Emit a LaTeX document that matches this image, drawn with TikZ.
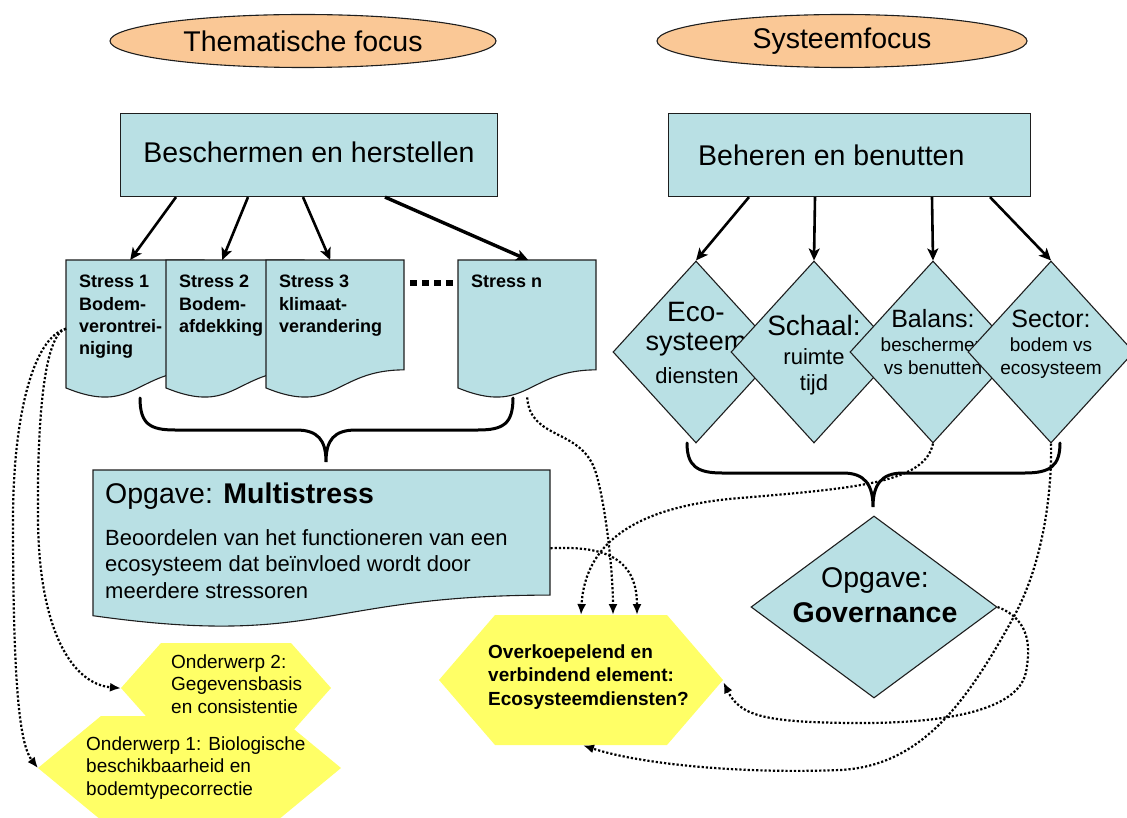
\documentclass[tikz,border=0pt]{standalone}
\usepackage{fontspec}
\setmainfont{Liberation Sans}
\usetikzlibrary{shapes.geometric,arrows.meta}

\definecolor{tealfill}{RGB}{185,224,228}
\definecolor{hexyellow}{RGB}{255,255,102}
\definecolor{peach}{RGB}{250,200,150}
\definecolor{edgegray}{RGB}{30,30,30}

\newcommand\fs[2]{\fontsize{#1pt}{#2pt}\selectfont}
% left-aligned block whose baseline is that of its first line
\newcommand\linesleft[1]{\vtop{\halign{##\hfil\cr #1\crcr}}}

% flowchart "document" shape: name, x, y (top), width, height
\newcommand\docshape[5]{%
  \pgfmathsetmacro\dR{#2+#4}%
  \pgfmathsetmacro\dM{#2+0.5*#4}%
  \pgfmathsetmacro\dYr{#3+0.802*#5}%
  \pgfmathsetmacro\dYc{#3+1.14*#5}%
  \pgfmathsetmacro\dYl{#3+0.934*#5}%
  \filldraw[box] (#2,#3) -- (\dR,#3) -- (\dR,\dYr)
    .. controls (\dM,\dYr) and (\dM,\dYc) .. (#2,\dYl) -- cycle;
  \node[inner sep=0pt, minimum width=#4pt, minimum height=#5pt,
        anchor=north west] (#1) at (#2,#3) {};
}

% hexagon: name, x left, x top-left, x top-right, x right, y top, y bottom
\newcommand\hexshape[7]{%
  \pgfmathsetmacro\hM{0.5*(#6+#7)}%
  \fill[hexyellow] (#2,\hM) -- (#3,#6) -- (#4,#6) -- (#5,\hM)
    -- (#4,#7) -- (#3,#7) -- cycle;
  \pgfmathsetmacro\hW{#5-#2}%
  \pgfmathsetmacro\hH{#7-#6}%
  \node[inner sep=0pt, minimum width=\hW pt, minimum height=\hH pt,
        anchor=north west] (#1) at (#2,#6) {};
}

\begin{document}
\begin{tikzpicture}[x=1pt, y=-1pt,
  box/.style={draw=edgegray, line width=1.1pt, fill=tealfill},
  diam/.style={diamond, draw=edgegray, line width=1.1pt, fill=tealfill,
               inner sep=0pt, aspect=1},
  oval/.style={ellipse, draw=edgegray, line width=1.1pt, fill=peach,
               inner sep=0pt, font=\fs{28.5}{30}},
  solidarr/.style={draw=black, line width=2.6pt,
                   -{Stealth[length=12pt,width=11pt,inset=3pt]}},
  dotarr/.style={draw=black, line width=2.2pt, dash pattern=on 2.2pt off 2pt,
                 -{Latex[length=11pt,width=9pt]}},
  brace/.style={draw=black, line width=3pt, line cap=round},
  txt/.style={inner sep=0pt},
]
\useasboundingbox (0,0) rectangle (1127,818);

% ---- headings -------------------------------------------------------
\node[oval, minimum width=386pt, minimum height=53pt] (thema) at (303,41)
  {Thematische focus};
\node[oval, minimum width=370pt, minimum height=53pt] (systeem) at (842,41)
  {Systeemfocus};

% ---- top boxes ------------------------------------------------------
\node[box, minimum width=377pt, minimum height=83pt, anchor=north west,
      inner sep=0pt] (besch) at (120,113) {};
\node[txt, anchor=base, font=\fs{28.5}{30}] (beschT) at (309,163)
  {Beschermen en herstellen};
\node[box, minimum width=362pt, minimum height=83pt, anchor=north west,
      inner sep=0pt] (beheer) at (668,113) {};
\node[txt, anchor=base west, font=\fs{28.5}{30}] (beheerT) at (698,166)
  {Beheren en benutten};

% ---- stress documents -----------------------------------------------
\docshape{s1}{66}{260}{138}{137}
\node[txt, anchor=base west, font=\fs{18}{22.3}\bfseries] (s1T) at (79,288)
  {\linesleft{Stress 1\cr Bodem-\cr verontrei-\cr niging}};
\docshape{s2}{166}{260}{138}{137}
\node[txt, anchor=base west, font=\fs{18}{22.3}\bfseries] (s2T) at (179,288)
  {\linesleft{Stress 2\cr Bodem-\cr afdekking}};
\docshape{s3}{266}{260}{138}{137}
\node[txt, anchor=base west, font=\fs{18}{22.3}\bfseries] (s3T) at (279,288)
  {\linesleft{Stress 3\cr klimaat-\cr verandering}};
\draw[line width=6pt, dash pattern=on 7pt off 5pt] (410,283) -- (453,283);
\docshape{sn}{458}{260}{138}{137}
\node[txt, anchor=base west, font=\fs{18}{22.3}\bfseries] (snT) at (471,288)
  {Stress n};

% ---- system diamonds ------------------------------------------------
\node[diam, minimum width=166pt, minimum height=182pt] (d1) at (696,352) {};
\node[txt, anchor=base, font=\fs{28}{28}] (d1a) at (696,321) {Eco-};
\node[txt, anchor=base, font=\fs{27}{27}] (d1b) at (696,350) {systeem};
\node[txt, anchor=base, font=\fs{22}{22}] (d1c) at (697,383) {diensten};

\node[diam, minimum width=166pt, minimum height=182pt] (d2) at (814,352) {};
\node[txt, anchor=base, font=\fs{28}{28}] (d2a) at (814,335) {Schaal:};
\node[txt, anchor=base, font=\fs{22}{22}] (d2b) at (814,364) {ruimte};
\node[txt, anchor=base, font=\fs{22}{22}] (d2c) at (814,390) {tijd};

\node[diam, minimum width=166pt, minimum height=182pt] (d3) at (933,352) {};
\node[txt, anchor=base, font=\fs{25}{25}] (d3a) at (933,327) {Balans:};
\node[txt, anchor=base, font=\fs{19}{19}] (d3b) at (933,352) {beschermen};
\node[txt, anchor=base, font=\fs{19}{19}] (d3c) at (933,374) {vs benutten};

\node[diam, minimum width=166pt, minimum height=182pt] (d4) at (1051,352) {};
\node[txt, anchor=base, font=\fs{25}{25}] (d4a) at (1051,327) {Sector:};
\node[txt, anchor=base, font=\fs{19}{19}] (d4b) at (1051,352) {bodem vs};
\node[txt, anchor=base, font=\fs{19}{19}] (d4c) at (1051,374) {ecosysteem};

% ---- solid arrows ---------------------------------------------------
\draw[solidarr] ([xshift=56pt]besch.south west) -- ([xshift=-5pt]s1.north);
\draw[solidarr] ([xshift=128pt]besch.south west) -- ([xshift=-13pt]s2.north);
\draw[solidarr] ([xshift=183pt]besch.south west) -- ([xshift=-5pt]s3.north);
\draw[solidarr, line width=3.4pt] ([xshift=265pt]besch.south west) -- ([xshift=1pt]sn.north);
\draw[solidarr] ([xshift=81pt]beheer.south west) -- (d1.north);
\draw[solidarr] ([xshift=147pt]beheer.south west) -- (d2.north);
\draw[solidarr] ([xshift=264pt]beheer.south west) -- (d3.north);
\draw[solidarr] ([xshift=322pt]beheer.south west) -- (d4.north);

% ---- braces ---------------------------------------------------------
\draw[brace] (140,398) .. controls (140,424) and (150,430) .. (175,430)
  -- (296,430) .. controls (318,430) and (326,440) .. (326,462)
  .. controls (326,440) and (334,430) .. (356,430)
  -- (478,430) .. controls (503,430) and (513,424) .. (513,398);
\draw[brace] (687,443) .. controls (687,466) and (697,473) .. (722,473)
  -- (843,473) .. controls (865,473) and (873,485) .. (873,507)
  .. controls (873,485) and (881,473) .. (903,473)
  -- (1025,473) .. controls (1050,473) and (1060,466) .. (1060,443);

% ---- multistress and governance ------------------------------------
\docshape{ms}{93}{470}{457}{156}
\node[txt, anchor=base west, font=\fs{28.5}{30}] (msT) at (105,503)
  {Opgave: \textbf{Multistress}};
\node[txt, anchor=base west, font=\fs{22}{26.5}] (msB) at (105,545)
  {\linesleft{Beoordelen van het functioneren van een\cr
   ecosysteem dat beïnvloed wordt door\cr meerdere stressoren}};

\node[diam, minimum width=246pt, minimum height=182pt] (gov) at (874,607) {};
\node[txt, anchor=base, font=\fs{28.5}{30}] (govA) at (875,587) {Opgave:};
\node[txt, anchor=base, font=\fs{28.5}{30}\bfseries] (govB) at (875,622) {Governance};

% ---- hexagons -------------------------------------------------------
\hexshape{ond2}{121}{161}{291}{331}{643}{733}
\node[txt, anchor=base west, font=\fs{19}{22.5}] (ond2T) at (171,668)
  {\linesleft{Onderwerp 2:\cr Gegevensbasis\cr en consistentie}};
\hexshape{ond1}{38}{101}{278}{341}{716}{820}
\node[txt, anchor=base west, font=\fs{19}{22.5}] (ond1T) at (86,750)
  {\linesleft{Onderwerp 1: Biologische\cr beschikbaarheid en\cr bodemtypecorrectie}};
\hexshape{overk}{439}{495}{667}{723}{615}{745}
\node[txt, anchor=base west, font=\fs{19}{23.5}\bfseries] (overkT) at (488,658)
  {\linesleft{Overkoepelend en\cr verbindend element:\cr Ecosysteemdiensten?}};

% ---- dotted connectors ----------------------------------------------
\draw[dotarr] (s1.west) .. controls (44,334) and (37,420) .. (38,520)
  .. controls (39,630) and (72,684) .. (ond2.west);
\draw[dotarr] (s1.west) .. controls (32,338) and (13,420) .. (13,520)
  .. controls (13,690) and (20,745) .. (ond1.west);
\draw[dotarr] (sn.south) .. controls (530,440) and (580,428) .. (595,470)
  .. controls (605,500) and (613,570) .. ([xshift=174pt]overk.north west);
\draw[dotarr] (ms.east) .. controls (600,546) and (637,555) .. ([xshift=198pt]overk.north west);
\draw[dotarr] (d3.south) .. controls (925,482) and (860,488) .. (740,498)
  .. controls (640,506) and (585,540) .. ([xshift=142pt]overk.north west);
\draw[dotarr] (gov.east) .. controls (1032,620) and (1030,650) .. (1026,672)
  .. controls (1018,712) and (940,724) .. (850,723)
  .. controls (765,722) and (740,716) .. ([yshift=-2pt]overk.east);
\draw[dotarr] (d4.south) .. controls (1052,482) and (1046,560) .. (1012,620)
  .. controls (965,705) and (920,766) .. (840,770)
  .. controls (740,774) and (640,764) .. ([xshift=144pt]overk.south west);
\end{tikzpicture}
\end{document}
